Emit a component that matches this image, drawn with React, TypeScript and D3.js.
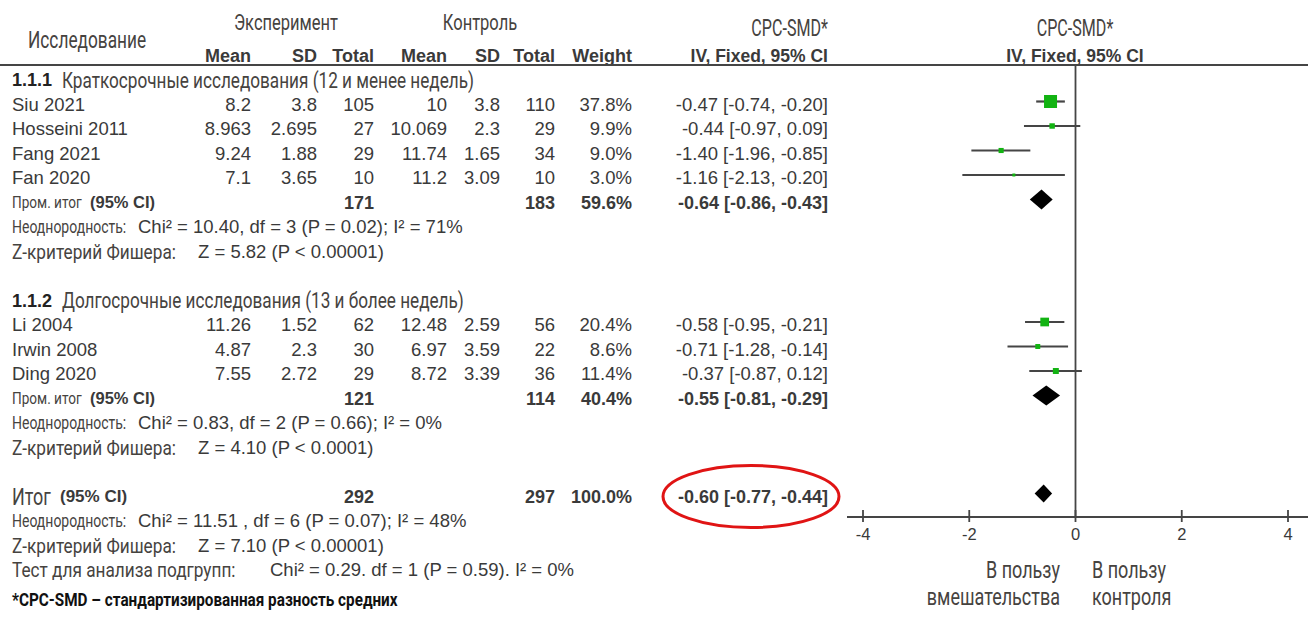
import React from "react";
import * as d3 from "d3";

// ---------- data ----------
const subgroupCodes = ["1.1.1", "1.1.2"];
const subgroupTitles = [
  "Краткосрочные исследования (12 и менее недель)",
  "Долгосрочные исследования (13 и более недель)",
];
const studyNames = ["Siu 2021", "Hosseini 2011", "Fang 2021", "Fan 2020", "Li 2004", "Irwin 2008", "Ding 2020"];
const studyGroup = [0, 0, 0, 0, 1, 1, 1];
const expMean = [8.2, 8.963, 9.24, 7.1, 11.26, 4.87, 7.55];
const expSD = [3.8, 2.695, 1.88, 3.65, 1.52, 2.3, 2.72];
const expN = [105, 27, 29, 10, 62, 30, 29];
const ctlMean = [10, 10.069, 11.74, 11.2, 12.48, 6.97, 8.72];
const ctlSD = [3.8, 2.3, 1.65, 3.09, 2.59, 3.59, 3.39];
const ctlN = [110, 29, 34, 10, 56, 22, 36];
const weights = [37.8, 9.9, 9.0, 3.0, 20.4, 8.6, 11.4];
const smd = [-0.47, -0.44, -1.4, -1.16, -0.58, -0.71, -0.37];
const ciLow = [-0.74, -0.97, -1.96, -2.13, -0.95, -1.28, -0.87];
const ciHigh = [-0.2, 0.09, -0.85, -0.2, -0.21, -0.14, 0.12];

const subExpN = [171, 121];
const subCtlN = [183, 114];
const subWeight = [59.6, 40.4];
const subSmd = [-0.64, -0.55];
const subLow = [-0.86, -0.81];
const subHigh = [-0.43, -0.29];
const subHet = ["Chi² = 10.40, df = 3 (P = 0.02); I² = 71%", "Chi² = 0.83, df = 2 (P = 0.66); I² = 0%"];
const subZ = ["Z = 5.82 (P < 0.00001)", "Z = 4.10 (P < 0.0001)"];

const totalExpN = 292;
const totalCtlN = 297;
const totalWeight = 100.0;
const totalSmd = -0.6;
const totalLow = -0.77;
const totalHigh = -0.44;
const totalHet = "Chi² = 11.51 , df = 6 (P = 0.07); I² = 48%";
const totalZ = "Z = 7.10 (P < 0.00001)";
const subgroupTest = "Chi² = 0.29. df = 1 (P = 0.59). I² = 0%";

const axisTicks = [-4, -2, 0, 2, 4];

// ---------- layout ----------
const W = 1308;
const H = 620;
const ARIAL = "'Liberation Sans', Arial, sans-serif";
const COND = "Roboto, 'Noto Sans', sans-serif";
const GRAY = "#3a3a3a";
const CGRAY = "#46433f";
const GREEN = "#12b312";
const LINE = "#454545";

const col = { expMean: 251, expSD: 317, expN: 374, ctlMean: 447, ctlSD: 500, ctlN: 555, weight: 632, ci: 828 };

const x = d3.scaleLinear().domain([-4, 4]).range([863, 1288]);
const rowY = d3.scaleLinear().domain([0, 20]).range([80, 570]);
const boxSize = d3.scalePow().exponent(0.65).domain([0, d3.max(weights) as number]).range([0, 13]);

const f2 = (v: number) => v.toFixed(2);
const ciText = (e: number, l: number, h: number) => `${f2(e)} [${f2(l)}, ${f2(h)}]`;
const pct = (v: number) => `${v.toFixed(1)}%`;

function T({ x, y, children, anchor = "start", size = 18.5, bold = false, fill = GRAY }: any) {
  return (
    <text x={x} y={y} dy="0.35em" textAnchor={anchor} fontSize={size} fontWeight={bold ? 700 : 400} fontFamily={ARIAL} fill={fill}>
      {children}
    </text>
  );
}

function C({ x, y, children, anchor = "start", size = 20, sx = 0.85, bold = false, fill = CGRAY }: any) {
  return (
    <text
      transform={`translate(${x},${y}) scale(${sx},1)`}
      dy="0.35em"
      textAnchor={anchor}
      fontSize={size}
      fontWeight={bold ? 700 : 400}
      fontFamily={COND}
      fill={fill}
    >
      {children}
    </text>
  );
}

function Diamond({ est, lo, hi, y, h }: any) {
  const p = d3.path();
  p.moveTo(x(lo), y);
  p.lineTo(x(est), y - h);
  p.lineTo(x(hi), y);
  p.lineTo(x(est), y + h);
  p.closePath();
  return <path d={p.toString()} fill="#000" />;
}

export default function App() {
  const groupStart: number[] = [];
  let r = 0;
  subgroupCodes.forEach((_, g) => {
    groupStart.push(r);
    const n = studyGroup.filter((s) => s === g).length;
    r += n + 5;
  });
  const totalRow = r;
  const mOff = -3;

  const els: React.ReactNode[] = [];

  subgroupCodes.forEach((code, g) => {
    const start = groupStart[g];
    const yT = rowY(start);
    els.push(
      <g key={`title${g}`}>
        <T x={12} y={yT} bold fill="#222" size={18}>{code}</T>
        <C x={62} y={yT} size={22} sx={0.78}>{subgroupTitles[g]}</C>
      </g>
    );
    const idx = studyNames.map((_, i) => i).filter((i) => studyGroup[i] === g);
    idx.forEach((i, k) => {
      const y = rowY(start + 1 + k);
      const ym = y + mOff;
      const s = Math.max(3, boxSize(weights[i]));
      els.push(
        <g key={`s${i}`}>
          <T x={12} y={y}>{studyNames[i]}</T>
          <T x={col.expMean} y={y} anchor="end">{String(expMean[i])}</T>
          <T x={col.expSD} y={y} anchor="end">{String(expSD[i])}</T>
          <T x={col.expN} y={y} anchor="end">{String(expN[i])}</T>
          <T x={col.ctlMean} y={y} anchor="end">{String(ctlMean[i])}</T>
          <T x={col.ctlSD} y={y} anchor="end">{String(ctlSD[i])}</T>
          <T x={col.ctlN} y={y} anchor="end">{String(ctlN[i])}</T>
          <T x={col.weight} y={y} anchor="end">{pct(weights[i])}</T>
          <T x={col.ci} y={y} anchor="end">{ciText(smd[i], ciLow[i], ciHigh[i])}</T>
          <line x1={x(ciLow[i])} x2={x(ciHigh[i])} y1={ym} y2={ym} stroke={LINE} strokeWidth={2.2} />
          <rect x={x(smd[i]) - s / 2} y={ym - s / 2} width={s} height={s} fill={GREEN} />
        </g>
      );
    });
    const ys = rowY(start + 1 + idx.length);
    els.push(
      <g key={`sub${g}`}>
        <C x={12} y={ys} size={17} sx={0.8}>Пром. итог</C>
        <T x={90} y={ys} bold size={16.5}>(95% CI)</T>
        <T x={col.expN} y={ys} anchor="end" bold size={18}>{String(subExpN[g])}</T>
        <T x={col.ctlN} y={ys} anchor="end" bold size={18}>{String(subCtlN[g])}</T>
        <T x={col.weight} y={ys} anchor="end" bold size={18}>{pct(subWeight[g])}</T>
        <T x={col.ci} y={ys} anchor="end" bold size={18}>{ciText(subSmd[g], subLow[g], subHigh[g])}</T>
        <Diamond est={subSmd[g]} lo={subLow[g]} hi={subHigh[g]} y={ys + mOff} h={10} />
        <C x={12} y={rowY(start + 2 + idx.length)} size={17.5} sx={0.8}>Неоднородность:</C>
        <T x={138} y={rowY(start + 2 + idx.length)}>{subHet[g]}</T>
        <C x={12} y={rowY(start + 3 + idx.length)} size={21} sx={0.82}>Z-критерий Фишера:</C>
        <T x={198} y={rowY(start + 3 + idx.length)}>{subZ[g]}</T>
      </g>
    );
  });

  const yTot = rowY(totalRow);

  return (
    <svg width={W} height={H} style={{ position: "absolute", left: 0, top: 0, background: "#fff" }}>
      <rect x={0} y={0} width={W} height={H} fill="#fff" />
      {/* headers */}
      <C x={28} y={40} size={24} sx={0.72}>Исследование</C>
      <C x={286} y={22} size={22} sx={0.75} anchor="middle">Эксперимент</C>
      <C x={480} y={22} size={22} sx={0.75} anchor="middle">Контроль</C>
      <C x={828} y={28} size={23} sx={0.7} anchor="end">CPC-SMD*</C>
      <C x={1075} y={28} size={23} sx={0.7} anchor="middle">CPC-SMD*</C>
      <T x={col.expMean} y={56} anchor="end" bold size={18}>Mean</T>
      <T x={col.expSD} y={56} anchor="end" bold size={18}>SD</T>
      <T x={col.expN} y={56} anchor="end" bold size={18}>Total</T>
      <T x={col.ctlMean} y={56} anchor="end" bold size={18}>Mean</T>
      <T x={col.ctlSD} y={56} anchor="end" bold size={18}>SD</T>
      <T x={col.ctlN} y={56} anchor="end" bold size={18}>Total</T>
      <T x={col.weight} y={56} anchor="end" bold size={18}>Weight</T>
      <T x={col.ci} y={56} anchor="end" bold size={17.5}>IV, Fixed, 95% CI</T>
      <T x={1075} y={56} anchor="middle" bold size={17.5}>IV, Fixed, 95% CI</T>
      <line x1={0} x2={W} y1={65} y2={65} stroke={LINE} strokeWidth={2} />

      {/* zero line */}
      <line x1={x(0)} x2={x(0)} y1={65} y2={517} stroke={LINE} strokeWidth={1.8} />

      {els}

      {/* total */}
      <C x={12} y={yTot} size={23} sx={0.78}>Итог</C>
      <T x={60} y={yTot} bold size={17}>(95% CI)</T>
      <T x={col.expN} y={yTot} anchor="end" bold size={18}>{String(totalExpN)}</T>
      <T x={col.ctlN} y={yTot} anchor="end" bold size={18}>{String(totalCtlN)}</T>
      <T x={col.weight} y={yTot} anchor="end" bold size={18}>{pct(totalWeight)}</T>
      <T x={col.ci} y={yTot} anchor="end" bold size={18}>{ciText(totalSmd, totalLow, totalHigh)}</T>
      <Diamond est={totalSmd} lo={totalLow} hi={totalHigh} y={yTot + mOff} h={9} />
      <ellipse cx={751} cy={496.5} rx={88} ry={31} fill="none" stroke="#e01414" strokeWidth={3} />

      <C x={12} y={rowY(totalRow + 1)} size={17.5} sx={0.8}>Неоднородность:</C>
      <T x={138} y={rowY(totalRow + 1)}>{totalHet}</T>
      <C x={12} y={rowY(totalRow + 2)} size={21} sx={0.82}>Z-критерий Фишера:</C>
      <T x={198} y={rowY(totalRow + 2)}>{totalZ}</T>
      <C x={12} y={rowY(totalRow + 3)} size={21} sx={0.82}>Тест для анализа подгрупп:</C>
      <T x={270} y={rowY(totalRow + 3)}>{subgroupTest}</T>
      <C x={12} y={600} size={18} sx={0.85} bold fill="#111">*CPC-SMD – стандартизированная разность средних</C>

      {/* axis */}
      <line x1={847} x2={W} y1={517} y2={517} stroke={LINE} strokeWidth={2} />
      {axisTicks.map((t) => (
        <g key={t}>
          <line x1={x(t)} x2={x(t)} y1={510} y2={522} stroke={LINE} strokeWidth={1.8} />
          <T x={x(t)} y={534} anchor="middle" size={16.5}>{String(t)}</T>
        </g>
      ))}
      <C x={1060} y={570} size={24} sx={0.75} anchor="end">В пользу</C>
      <C x={1060} y={597} size={24} sx={0.75} anchor="end">вмешательства</C>
      <C x={1092} y={570} size={24} sx={0.75}>В пользу</C>
      <C x={1092} y={597} size={24} sx={0.75}>контроля</C>
    </svg>
  );
}
